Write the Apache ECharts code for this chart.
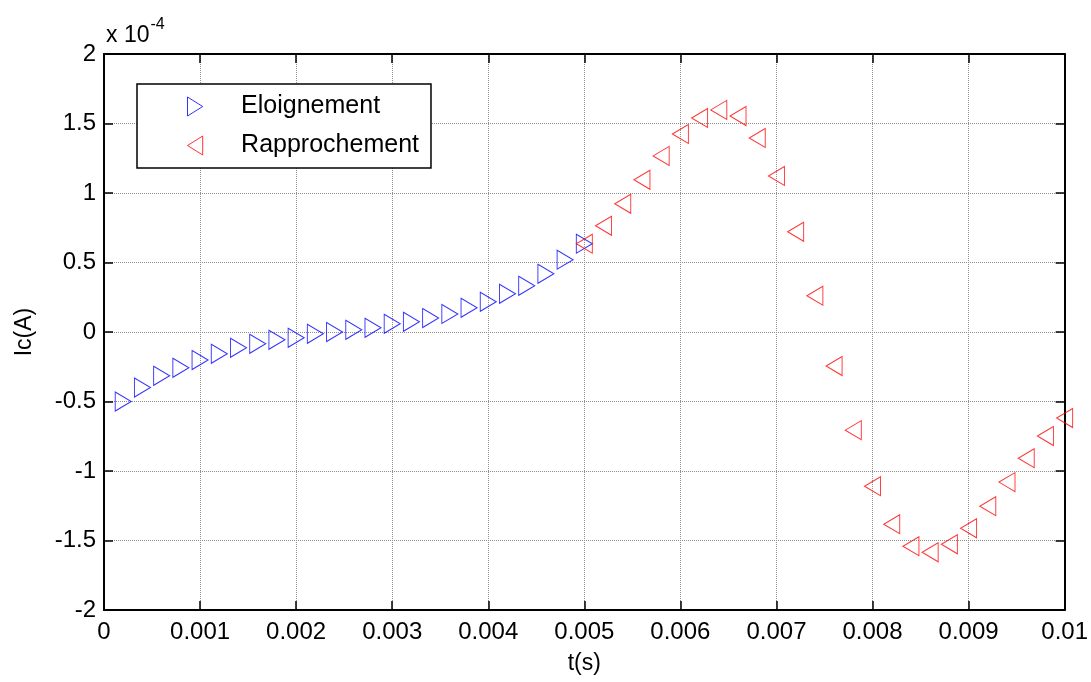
<!DOCTYPE html>
<html>
<head>
<meta charset="utf-8">
<script src="https://cdn.jsdelivr.net/npm/echarts@6/dist/echarts.min.js"></script>
<style>
html,body{margin:0;padding:0;background:#fff;}
#chart{width:1091px;height:682px;}
</style>
</head>
<body>
<div id="chart"></div>
<script>
// Time samples (s)
const tEloignement = [0.0002,0.0004,0.0006,0.0008,0.0010,0.0012,0.0014,0.0016,0.0018,0.0020,
  0.0022,0.0024,0.0026,0.0028,0.0030,0.0032,0.0034,0.0036,0.0038,0.0040,
  0.0042,0.0044,0.0046,0.0048,0.0050];
// Ic values in units of 1e-4 A
const icEloignement = [-0.50,-0.40,-0.315,-0.258,-0.202,-0.157,-0.114,-0.085,-0.056,-0.042,
  -0.013,0.0,0.016,0.03,0.059,0.073,0.10,0.13,0.174,0.217,
  0.275,0.332,0.419,0.52,0.635];
const tRapprochement = [0.0050,0.0052,0.0054,0.0056,0.0058,0.0060,0.0062,0.0064,0.0066,0.0068,
  0.0070,0.0072,0.0074,0.0076,0.0078,0.0080,0.0082,0.0084,0.0086,0.0088,
  0.0090,0.0092,0.0094,0.0096,0.0098,0.0100];
const icRapprochement = [0.635,0.764,0.922,1.095,1.267,1.425,1.540,1.598,1.554,1.396,
  1.123,0.721,0.261,-0.245,-0.706,-1.109,-1.383,-1.541,-1.585,-1.527,
  -1.412,-1.253,-1.080,-0.908,-0.749,-0.619];
const xTicks = [0,0.001,0.002,0.003,0.004,0.005,0.006,0.007,0.008,0.009,0.01];
const yTicks = [-2,-1.5,-1,-0.5,0,0.5,1,1.5,2];
const seriesNames = ['Eloignement','Rapprochement'];
const xLabel = 't(s)';
const yLabel = 'Ic(A)';

const RIGHT_TRI = 'path://M0,0L16,10L0,20Z';
const LEFT_TRI = 'path://M16,0L0,10L16,20Z';

const chart = echarts.init(document.getElementById('chart'), null, {renderer:'canvas'});
const FONT = 'Liberation Sans, Arial, sans-serif';
const gridLine = {show:true, lineStyle:{color:'#8f8f8f', type:[1,1], width:1}};
const axisLineStyle = {color:'#000', width:2};

chart.setOption({
  backgroundColor:'#fff',
  animation:false,
  title:{
    text:'{a|x 10}{b|-4}',
    left:101, top:12,
    textStyle:{fontWeight:'normal', rich:{
      a:{fontFamily:FONT, fontSize:23, fontWeight:'normal', color:'#000', verticalAlign:'bottom', lineHeight:30},
      b:{fontFamily:FONT, fontSize:16, fontWeight:'normal', color:'#000', verticalAlign:'top', lineHeight:30, padding:[0,0,14,1]}
    }}
  },
  grid:{left:104, right:22, top:54, bottom:72, containLabel:false},
  legend:{
    orient:'vertical', left:137, top:84,
    padding:[10,12,10,50],
    itemGap:14, itemWidth:16, itemHeight:19,
    backgroundColor:'#fff', borderColor:'#000', borderWidth:1.5,
    textStyle:{fontFamily:FONT, fontSize:25, color:'#000', padding:[0,0,0,33]},
    data:[
      {name:seriesNames[0], icon:RIGHT_TRI, itemStyle:{color:'rgba(0,0,0,0)', borderColor:'#0000ff', borderWidth:1}},
      {name:seriesNames[1], icon:LEFT_TRI, itemStyle:{color:'rgba(0,0,0,0)', borderColor:'#ff0000', borderWidth:1}}
    ]
  },
  xAxis:[{
    type:'value', min:xTicks[0], max:xTicks[xTicks.length-1], interval:0.001,
    position:'bottom',
    name:xLabel, nameLocation:'middle', nameGap:42,
    nameTextStyle:{fontFamily:FONT, fontSize:23, color:'#000'},
    axisLine:{show:true, onZero:false, lineStyle:axisLineStyle},
    axisTick:{show:true, inside:true, length:9, lineStyle:{color:'#000', width:1.5}},
    axisLabel:{show:true, margin:10, fontFamily:FONT, fontSize:24, color:'#000',
      formatter:v => String(+v.toFixed(4))},
    splitLine:gridLine
  },{
    type:'value', min:xTicks[0], max:xTicks[xTicks.length-1], interval:0.001,
    position:'top',
    axisLine:{show:true, onZero:false, lineStyle:axisLineStyle},
    axisTick:{show:true, inside:true, length:9, lineStyle:{color:'#000', width:1.5}},
    axisLabel:{show:false}, splitLine:{show:false}
  }],
  yAxis:[{
    type:'value', min:yTicks[0], max:yTicks[yTicks.length-1], interval:0.5,
    position:'left',
    name:yLabel, nameLocation:'middle', nameGap:68, nameRotate:90,
    nameTextStyle:{fontFamily:FONT, fontSize:23, color:'#000'},
    axisLine:{show:true, onZero:false, lineStyle:axisLineStyle},
    axisTick:{show:true, inside:true, length:9, lineStyle:{color:'#000', width:1.5}},
    axisLabel:{show:true, margin:8, fontFamily:FONT, fontSize:24, color:'#000',
      formatter:v => String(+v.toFixed(2))},
    splitLine:gridLine
  },{
    type:'value', min:yTicks[0], max:yTicks[yTicks.length-1], interval:0.5,
    position:'right',
    axisLine:{show:true, onZero:false, lineStyle:axisLineStyle},
    axisTick:{show:true, inside:true, length:9, lineStyle:{color:'#000', width:1.5}},
    axisLabel:{show:false}, splitLine:{show:false}
  }],
  series:[
    {
      name:seriesNames[0], type:'scatter',
      data:tEloignement.map((t,i)=>[t, icEloignement[i]]),
      symbol:RIGHT_TRI, symbolSize:[16,19],
      itemStyle:{color:'rgba(0,0,0,0)', borderColor:'#0000ff', borderWidth:1},
      emphasis:{disabled:true}
    },
    {
      name:seriesNames[1], type:'scatter',
      data:tRapprochement.map((t,i)=>[t, icRapprochement[i]]),
      symbol:LEFT_TRI, symbolSize:[16,19],
      itemStyle:{color:'rgba(0,0,0,0)', borderColor:'#ff0000', borderWidth:1},
      emphasis:{disabled:true}
    }
  ]
});
</script>
</body>
</html>
